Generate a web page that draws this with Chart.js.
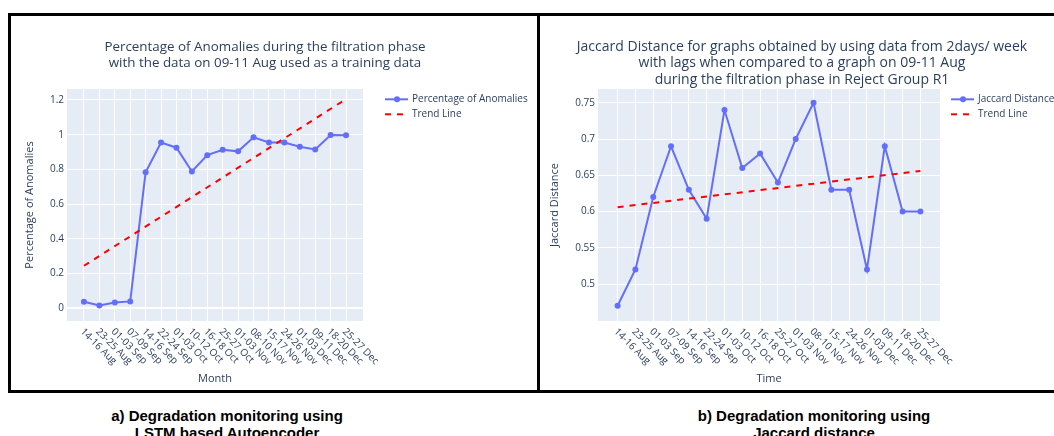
<!DOCTYPE html>
<html>
<head>
<meta charset="utf-8">
<script src="https://cdn.jsdelivr.net/npm/chart.js@4.4.1/dist/chart.umd.min.js"></script>
<style>
  body { margin: 0; background: #fff; width: 1054px; height: 436px; overflow: hidden; position: relative; }
  canvas { position: absolute; }
  .bar { position: absolute; background: #000; }
  .cap { position: absolute; width: 400px; text-align: center; font: bold 15px "Liberation Sans", Arial, sans-serif; line-height: 16.7px; color: #000; }
</style>
</head>
<body>
<canvas id="chartA" width="526" height="374" style="left:11px;top:16px"></canvas>
<canvas id="chartB" width="514" height="374" style="left:540px;top:16px"></canvas>
<div class="bar" style="left:8px;top:13px;width:1046px;height:3px"></div>
<div class="bar" style="left:8px;top:13px;width:3px;height:380px"></div>
<div class="bar" style="left:537px;top:13px;width:3px;height:380px"></div>
<div class="bar" style="left:8px;top:390px;width:1046px;height:3px"></div>
<div class="cap" style="left:27px;top:408px">a) Degradation monitoring using<br>LSTM based Autoencoder</div>
<div class="cap" style="left:614px;top:408px">b) Degradation monitoring using<br>Jaccard distance</div>
<script>
var labels = ['14-16 Aug','23-25 Aug','01-03 Sep','07-09 Sep','14-16 Sep','22-24 Sep','01-03 Oct','10-12 Oct','16-18 Oct',
  '25-27 Oct','01-03 Nov','08-10 Nov','15-17 Nov','24-26 Nov','01-03 Dec','09-11 Dec','18-20 Dec','25-27 Dec'];

var anomalies = [0.038,0.016,0.034,0.040,0.783,0.955,0.925,0.788,0.882,0.913,0.904,0.985,0.955,0.955,0.931,0.915,0.998,0.997];
var anomalyTrend = [0.245, 1.205];   // first and last category
var anomalyTicks = [0, 0.2, 0.4, 0.6, 0.8, 1, 1.2];

var jaccard = [0.47,0.52,0.62,0.69,0.63,0.59,0.74,0.66,0.68,0.64,0.70,0.75,0.63,0.63,0.52,0.69,0.60,0.60];
var jaccardTrend = [0.606, 0.656];
var jaccardTicks = [0.5, 0.55, 0.6, 0.65, 0.7, 0.75];

var TXT = '#2a3f5f';
var FONT = '"Open Sans", sans-serif';

function pts(arr) { return arr.map(function (v, i) { return {x: i, y: v}; }); }
function trendPts(tr) { return [{x: 0, y: tr[0]}, {x: labels.length - 1, y: tr[1]}]; }

var plotBg = {
  id: 'plotBg',
  beforeDraw: function (chart) {
    var a = chart.chartArea, ctx = chart.ctx;
    ctx.save();
    ctx.fillStyle = '#E5ECF6';
    ctx.fillRect(a.left, a.top, a.right - a.left, a.bottom - a.top);
    ctx.restore();
  }
};

var extras = {
  id: 'extras',
  afterDraw: function (chart, args, o) {
    var ctx = chart.ctx, a = chart.chartArea, xs = chart.scales.x;
    ctx.save();
    ctx.fillStyle = TXT;
    ctx.font = o.titleSize + 'px ' + FONT;
    ctx.textAlign = 'center';
    ctx.textBaseline = 'middle';
    o.title.forEach(function (t, i) { ctx.fillText(t, o.titleX, o.titleY + i * 16.5); });

    // rotated category labels
    ctx.font = '10px ' + FONT;
    ctx.textAlign = 'left';
    labels.forEach(function (l, i) {
      ctx.save();
      ctx.translate(xs.getPixelForValue(i) - 2, a.bottom + 9);
      ctx.rotate(Math.PI / 4);
      ctx.fillText(l, 0, 0);
      ctx.restore();
    });

    // legend
    var lx = o.legendX, ly = o.legendY;
    ctx.strokeStyle = '#636EFA'; ctx.lineWidth = 2;
    ctx.beginPath(); ctx.moveTo(lx, ly); ctx.lineTo(lx + 23, ly); ctx.stroke();
    ctx.fillStyle = '#636EFA';
    ctx.beginPath(); ctx.arc(lx + 12, ly, 3, 0, Math.PI * 2); ctx.fill();
    ctx.strokeStyle = '#FF0000';
    ctx.setLineDash([6, 6]);
    ctx.beginPath(); ctx.moveTo(lx, ly + 15); ctx.lineTo(lx + 20, ly + 15); ctx.stroke();
    ctx.setLineDash([]);
    ctx.fillStyle = TXT;
    ctx.font = '10px ' + FONT;
    ctx.fillText(o.legend[0], lx + 27, ly);
    ctx.fillText(o.legend[1], lx + 27, ly + 15);
    ctx.restore();
  }
};

function makeChart(id, values, trend, ticks, range, yW, yTitlePad, padRight, names, xTitle, yTitle, titleOpts) {
  return new Chart(document.getElementById(id), {
    type: 'line',
    data: {
      datasets: [{
        label: names[1],
        data: trendPts(trend),
        borderColor: '#FF0000',
        borderWidth: 2,
        borderDash: [6, 6],
        pointRadius: 0,
        order: 0
      }, {
        label: names[0],
        data: pts(values),
        borderColor: '#636EFA',
        backgroundColor: '#636EFA',
        borderWidth: 2,
        pointRadius: 3,
        pointBorderWidth: 0,
        order: 1
      }]
    },
    options: {
      responsive: false,
      animation: false,
      layout: { padding: { left: 0, top: 73, right: padRight, bottom: 0 } },
      plugins: {
        legend: { display: false },
        title: { display: false },
        tooltip: { enabled: false },
        extras: Object.assign({ legend: names }, titleOpts)
      },
      scales: {
        x: {
          type: 'linear',
          min: -1.1,
          max: labels.length + 0.1,
          afterBuildTicks: function (s) { s.ticks = labels.map(function (_, i) { return {value: i}; }); },
          afterFit: function (s) { s.height = 69; },
          ticks: { display: false },
          grid: { color: '#fff', lineWidth: 1, drawTicks: false },
          border: { display: false },
          title: { display: true, text: xTitle, color: TXT, font: { family: FONT, size: 11 }, padding: { top: 0, bottom: 5 } }
        },
        y: {
          min: range[0],
          max: range[1],
          afterBuildTicks: function (s) { s.ticks = ticks.map(function (v) { return {value: v}; }); },
          afterFit: function (s) { s.width = yW; },
          ticks: { color: TXT, font: { family: FONT, size: 10 }, padding: 3,
            callback: function (v) { return String(+v.toFixed(2)); } },
          grid: { color: '#fff', drawTicks: false,
            lineWidth: function (c) { return c.tick && c.tick.value === 0 ? 2 : 1; } },
          border: { display: false },
          title: { display: true, text: yTitle, color: TXT, font: { family: FONT, size: 11 }, padding: { top: yTitlePad, bottom: 0 } }
        }
      }
    },
    plugins: [plotBg, extras]
  });
}

makeChart('chartA', anomalies, anomalyTrend, anomalyTicks, [-0.073, 1.263], 56, 12.4, 174,
  ['Percentage of Anomalies', 'Trend Line'], 'Month', 'Percentage of Anomalies',
  { title: ['Percentage of Anomalies during the filtration phase', 'with the data on 09-11 Aug used as a training data'],
    titleSize: 13.4, titleX: 254, titleY: 30.7, legendX: 374, legendY: 83.3 });

makeChart('chartB', jaccard, jaccardTrend, jaccardTicks, [0.449, 0.769], 58, 8.4, 114,
  ['Jaccard Distance', 'Trend Line'], 'Time', 'Jaccard Distance',
  { title: ['Jaccard Distance for graphs obtained by using data from 2days/ week', 'with lags when compared to a graph on 09-11 Aug', 'during the filtration phase in Reject Group R1'],
    titleSize: 14, titleX: 262, titleY: 30.7, legendX: 411, legendY: 83.3 });
</script>
</body>
</html>
